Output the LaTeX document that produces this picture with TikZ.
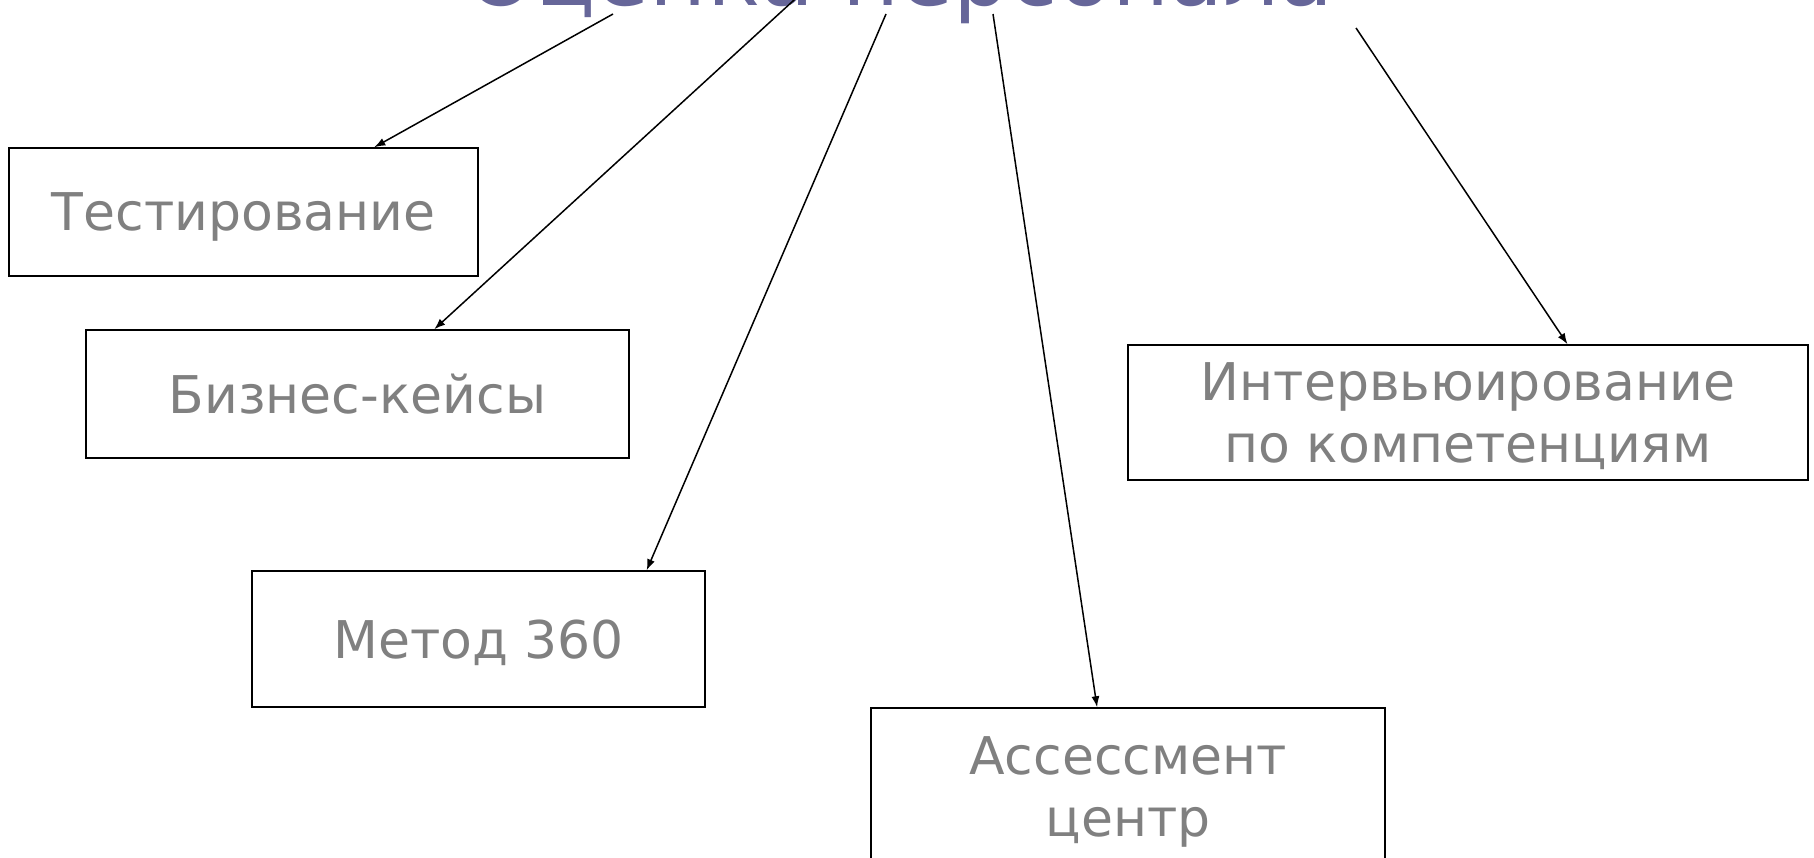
\documentclass[tikz,border=0pt]{standalone}
\usepackage{fontspec}
\setmainfont{DejaVu Sans}
\usetikzlibrary{arrows.meta, calc}

\definecolor{titleblue}{RGB}{102,102,153}
\definecolor{textgray}{RGB}{128,128,128}

\tikzset{
	methodpicture/.style = {
		x = 0.5pt,
		y = -0.5pt,
		arrow/.style = {
			draw,
			line width = 0.75pt,
			-{Latex[length=5.5pt, width=4pt]},
		}
	},
	methodbox/.style = {
		rectangle,
		draw = black,
		line width = 0.75pt,
		text = textgray,
		align = center,
		inner sep = 0pt,
		text depth = 0pt,
		font = \fontsize{26}{31}\selectfont
	},
	titletext/.style = {
		text = titleblue,
		anchor = base,
		inner sep = 0pt,
		font = \fontsize{44}{48}\selectfont
	}
}

\begin{document}
\begin{tikzpicture}[methodpicture]
	\useasboundingbox (0,0) rectangle (1814,857);

	\node[titletext] (title) at (900,5) {Оценка персонала};

	\node[methodbox, minimum width = 234.5pt, minimum height = 64pt] (test) at (243.5,212) {Тестирование};
	\node[methodbox, minimum width = 271.5pt, minimum height = 64pt] (cases) at (357.5,394) {Бизнес-кейсы};
	\node[methodbox, minimum width = 226.5pt, minimum height = 68pt] (m360) at (478.5,639) {Метод 360};
	\node[methodbox, minimum width = 257pt, minimum height = 79pt] (assess) at (1128,787) {Ассессмент\\центр};
	\node[methodbox, minimum width = 340pt, minimum height = 67.5pt] (interview) at (1468,412.5) {Интервьюирование\\по компетенциям};

	% start points under the title
	\coordinate (s1) at (613,14);
	\coordinate (s2) at (805,-10);
	\coordinate (s3) at (886,14);
	\coordinate (s4) at (993,14);
	\coordinate (s5) at (1356,28);

	\begin{scope}[every path/.style = arrow]
		\path (s1) to ($(test.north west)!0.778!(test.north east)$);
		\path (s2) to ($(cases.north west)!0.641!(cases.north east)$);
		\path (s3) to ($(m360.north west)!0.870!(m360.north east)$);
		\path (s4) to ($(assess.north west)!0.440!(assess.north east)$);
		\path (s5) to ($(interview.north west)!0.646!(interview.north east)$);
	\end{scope}
\end{tikzpicture}
\end{document}
